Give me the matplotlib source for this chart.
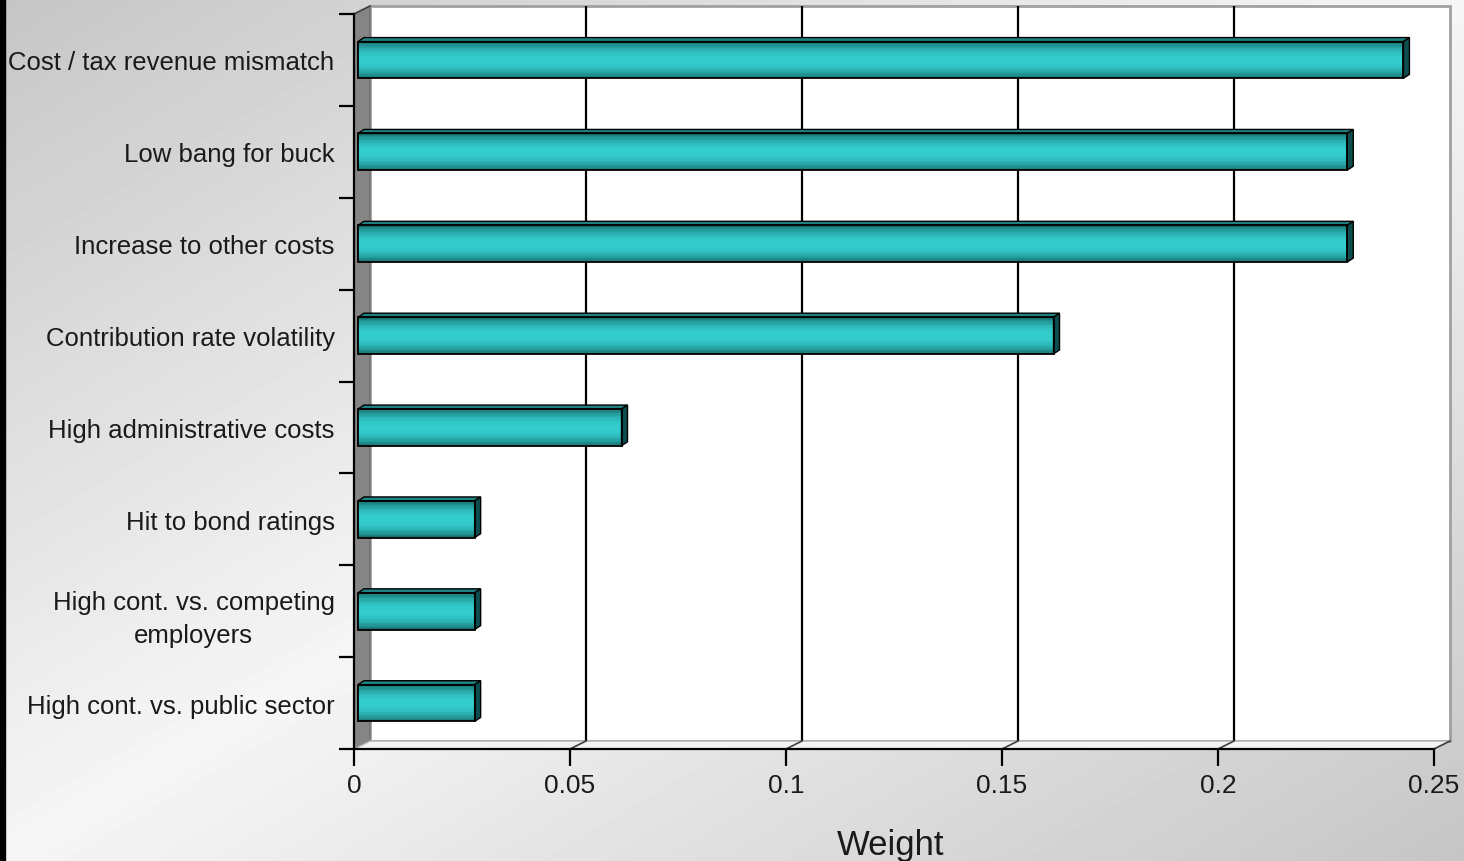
import numpy as np
import matplotlib
matplotlib.use("Agg")
import matplotlib.pyplot as plt
import matplotlib.transforms as mtransforms
from matplotlib.patches import Rectangle, Polygon

# data
categories = [
    "Cost / tax revenue mismatch",
    "Low bang for buck",
    "Increase to other costs",
    "Contribution rate volatility",
    "High administrative costs",
    "Hit to bond ratings",
    "High cont. vs. competing\nemployers",
    "High cont. vs. public sector",
]
weights = [0.242, 0.229, 0.229, 0.161, 0.061, 0.027, 0.027, 0.027]
xticks = [0, 0.05, 0.1, 0.15, 0.2, 0.25]
xticklabels = ["0", "0.05", "0.1", "0.15", "0.2", "0.25"]

plt.rcParams["font.family"] = ["Liberation Sans", "DejaVu Sans"]
txt = "#1a1a1a"

W, H = 1464, 862
fig = plt.figure(figsize=(W / 100, H / 100), dpi=100)

# background gradient
bg = fig.add_axes([0, 0, 1, 1], zorder=-5)
xx, yy = np.meshgrid(np.linspace(0, 1, 300), np.linspace(0, 1, 200))
t = (xx + yy) / 2
shade = 0.965 - 0.19 * np.abs(t - 0.5) * 2
bg.imshow(shade, cmap="gray", vmin=0, vmax=1, extent=[0, 1, 0, 1],
          aspect="auto", origin="upper", interpolation="bilinear")
bg.set_xlim(0, 1)
bg.set_ylim(0, 1)
bg.axis("off")
bg.add_patch(Rectangle((0, 0), 5 / W, 1, color="black", transform=bg.transAxes))

# main axes = front plane
ax = fig.add_axes([354 / W, 112 / H, 1080 / W, 735 / H])
ax.patch.set_visible(False)
n = len(categories)
y = np.arange(n)
ax.set_xlim(0, 0.25)
ax.set_ylim(n - 0.5, -0.5)

pxx = ax.bbox.width / 0.25
pxy = ax.bbox.height / n
dxa, dya = 16 / ax.bbox.width, 8 / ax.bbox.height

wall_off = mtransforms.ScaledTranslation(0.16, 0.08, fig.dpi_scale_trans)
bar_off = mtransforms.ScaledTranslation(0.04, 0.0, fig.dpi_scale_trans)

# back wall
ax.add_patch(Rectangle((0, 0), 1, 1, transform=ax.transAxes + wall_off,
                       facecolor="white", edgecolor="#a0a0a0", lw=2,
                       zorder=1, clip_on=False))
# left wall
ax.add_patch(Polygon([(0, 0), (dxa, dya), (dxa, 1 + dya), (0, 1)],
                     closed=True, transform=ax.transAxes, facecolor="#858585",
                     edgecolor="#707070", lw=1, zorder=1.5, clip_on=False))
# floor
ax.add_patch(Polygon([(0, 0), (1, 0), (1 + dxa, dya), (dxa, dya)],
                     closed=True, transform=ax.transAxes, facecolor="#f3f3f3",
                     edgecolor="#b0b0b0", lw=1, zorder=1.5, clip_on=False))
# gridlines on back wall + floor diagonals
ax.vlines(xticks[1:-1], 0, 1, transform=ax.get_xaxis_transform() + wall_off,
          colors="black", lw=1.6, zorder=2, clip_on=False)
for xt in xticks[1:]:
    xa = xt / 0.25
    ax.plot([xa, xa + dxa], [0, dya], color="#404040", lw=1.2,
            transform=ax.transAxes, zorder=2, clip_on=False)
ax.plot([0, dxa], [1, 1 + dya], color="#404040", lw=1.2,
        transform=ax.transAxes, zorder=2, clip_on=False)

# bars
h = 0.40
dark = np.array([0x17, 0x70, 0x70]) / 255
bright = np.array([0x34, 0xcd, 0xcd]) / 255
ddx, ddy = 6 / pxx, 4 / pxy
front_tr = ax.transData + bar_off
nl = 14
for k in range(nl):
    f = k / (nl - 1)
    col = dark + (bright - dark) * np.sin(f * np.pi / 2) ** 0.8
    ax.barh(y, weights, height=h * (1 - k / nl), color=col, lw=0,
            transform=front_tr, zorder=3, clip_on=False)
ax.barh(y, weights, height=h, facecolor="none", edgecolor="black", lw=1.3,
        transform=front_tr, zorder=4, clip_on=False)
for yi, v in zip(y, weights):
    top, bot = yi - h / 2, yi + h / 2
    ax.add_patch(Polygon([(0, top), (v, top), (v + ddx, top - ddy), (ddx, top - ddy)],
                         closed=True, transform=front_tr, facecolor="#1e8282",
                         edgecolor="black", lw=1, zorder=3.5, clip_on=False))
    ax.add_patch(Polygon([(v, top), (v + ddx, top - ddy), (v + ddx, bot - ddy), (v, bot)],
                         closed=True, transform=front_tr, facecolor="#0e4d4d",
                         edgecolor="black", lw=1, zorder=3.5, clip_on=False))

# axes styling
for s in ["top", "right"]:
    ax.spines[s].set_visible(False)
for s in ["left", "bottom"]:
    ax.spines[s].set_linewidth(1.6)
    ax.spines[s].set_color("black")
    ax.spines[s].set_zorder(5)

ax.set_xticks(xticks)
ax.set_xticklabels(xticklabels)
ax.tick_params(axis="x", length=12, width=1.6, pad=5, labelsize=19, labelcolor=txt)
ax.set_yticks(y)
ax.set_yticklabels(categories, multialignment="center", linespacing=1.5)
ax.set_yticks(np.arange(-0.5, n, 1), minor=True)
ax.tick_params(axis="y", which="major", length=0, pad=14, labelsize=18.5, labelcolor=txt)
ax.tick_params(axis="y", which="minor", length=11, width=1.6)
ax.set_xlabel("Weight", fontsize=25, color=txt)
ax.xaxis.set_label_coords(0.497, -0.108)

fig.savefig("out.png", dpi=100)
